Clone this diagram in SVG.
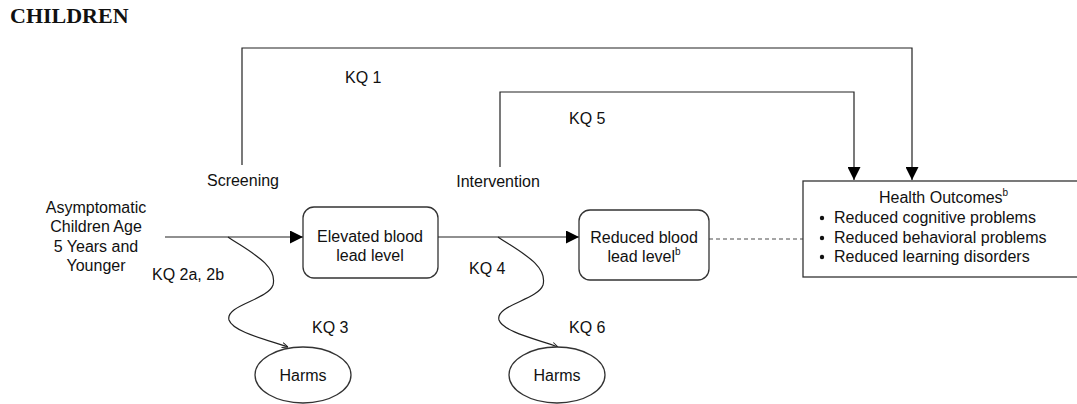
<svg xmlns="http://www.w3.org/2000/svg" width="1077" height="404" viewBox="0 0 1077 404">
<style>
text{font-family:"Liberation Sans",Arial,sans-serif;font-size:16px;fill:#111}
.title{font-family:"Liberation Serif","Times New Roman",serif;font-size:22px;font-weight:bold}
.sup{font-size:10px}
.line{fill:none;stroke:#222;stroke-width:1.2}
.box{fill:#fff;stroke:#333;stroke-width:1.3}
.mid{text-anchor:middle}
</style>
<defs>
<marker id="ah" markerWidth="13" markerHeight="13" refX="13" refY="6.5" orient="auto" markerUnits="userSpaceOnUse">
<path d="M0,0 L13,6.5 L0,13 Z" fill="#000"/>
</marker>
<marker id="sm" markerWidth="6" markerHeight="6" refX="6" refY="3" orient="auto" markerUnits="userSpaceOnUse">
<path d="M0,0.5 L6,3 L0,5.5" fill="none" stroke="#222" stroke-width="1"/>
</marker>
</defs>
<rect width="1077" height="404" fill="#fff"/>
<text class="title" x="10" y="23">CHILDREN</text>

<g id="connectors">
<path class="line" d="M242,165 V48 H912 V180" marker-end="url(#ah)"/>
<path class="line" d="M500,167 V92 H854 V180" marker-end="url(#ah)"/>
<path class="line" d="M165,237 H303" marker-end="url(#ah)"/>
<path class="line" d="M438,237 H579" marker-end="url(#ah)"/>
<path d="M709,239 H803" fill="none" stroke="#888" stroke-width="1.3" stroke-dasharray="4,3"/>
<path class="line" d="M228,237 C250,252 278,265 273,285 C268,300 225,305 229,320 C233,332 268,340 288,347" marker-end="url(#sm)"/>
<path class="line" d="M498,237 C520,252 548,265 543,285 C538,300 495,305 499,320 C503,332 540,340 558,347" marker-end="url(#sm)"/>
</g>

<g id="labels">
<text x="345" y="83">KQ 1</text>
<text x="569" y="124">KQ 5</text>
<text class="mid" x="243" y="186">Screening</text>
<text class="mid" x="498" y="187">Intervention</text>
<text x="152" y="280">KQ 2a, 2b</text>
<text x="312" y="333">KQ 3</text>
<text x="469" y="274">KQ 4</text>
<text x="569" y="333">KQ 6</text>
</g>

<g id="population">
<text class="mid" x="96" y="213">Asymptomatic</text>
<text class="mid" x="96" y="232">Children Age</text>
<text class="mid" x="96" y="252">5 Years and</text>
<text class="mid" x="96" y="271">Younger</text>
</g>

<g id="elevated">
<rect class="box" x="303" y="207" width="135" height="71" rx="11"/>
<text class="mid" x="370" y="242">Elevated blood</text>
<text class="mid" x="370" y="261">lead level</text>
</g>

<g id="reduced">
<rect class="box" x="579" y="210" width="130" height="70" rx="11"/>
<text class="mid" x="644" y="243">Reduced blood</text>
<text class="mid" x="644" y="262">lead level<tspan class="sup" dy="-7">b</tspan></text>
</g>

<g id="health">
<rect class="box" x="803" y="181" width="290" height="96"/>
<text x="879" y="203">Health Outcomes<tspan class="sup" dy="-7">b</tspan></text>
<circle cx="822" cy="218" r="2.2" fill="#111"/>
<circle cx="822" cy="238" r="2.2" fill="#111"/>
<circle cx="822" cy="257" r="2.2" fill="#111"/>
<text x="834" y="223">Reduced cognitive problems</text>
<text x="834" y="243">Reduced behavioral problems</text>
<text x="834" y="262">Reduced learning disorders</text>
</g>

<g id="harms1">
<ellipse class="box" cx="303" cy="375" rx="48" ry="28"/>
<text class="mid" x="303" y="381">Harms</text>
</g>

<g id="harms2">
<ellipse class="box" cx="557" cy="375" rx="48" ry="28"/>
<text class="mid" x="557" y="381">Harms</text>
</g>
</svg>
